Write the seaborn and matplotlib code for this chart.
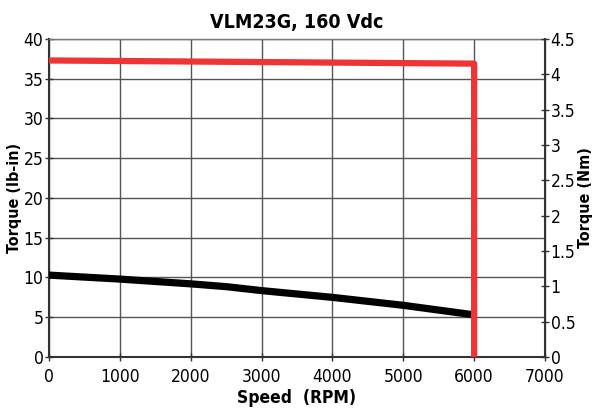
import numpy as np
import pandas as pd
import matplotlib
matplotlib.use("Agg")
import matplotlib.pyplot as plt
import seaborn as sns
from matplotlib import font_manager

sns.set_style("white")
names = {f.name for f in font_manager.fontManager.ttflist}
FONT = "Liberation Sans Narrow" if "Liberation Sans Narrow" in names else "DejaVu Sans"
plt.rcParams['font.family'] = [FONT, 'DejaVu Sans']
plt.rcParams['font.stretch'] = 'condensed'
plt.rcParams['text.color'] = 'black'
plt.rcParams['axes.labelcolor'] = 'black'
plt.rcParams['xtick.color'] = 'black'
plt.rcParams['ytick.color'] = 'black'

# data
speed_black = [0, 1000, 2000, 2500, 3000, 4000, 5000, 6000]
torque_black = [10.3, 9.8, 9.2, 8.85, 8.35, 7.5, 6.5, 5.3]
speed_red = [0, 6000, 6000]
torque_red = [37.3, 36.9, 0]

RED = "#ee3435"
GRID = "#555555"

fig = plt.figure(figsize=(5.92, 4.13), dpi=100)
ax = fig.add_axes([0.0828, 0.1356, 0.8378, 0.770])

df_b = pd.DataFrame({"speed": speed_black, "torque": torque_black})
df_r = pd.DataFrame({"speed": speed_red, "torque": torque_red})
sns.lineplot(data=df_b, x="speed", y="torque", color="black", lw=5.2, ax=ax,
             sort=False, estimator=None, solid_capstyle="butt", zorder=3)
sns.lineplot(data=df_r, x="speed", y="torque", color=RED, lw=4.5, ax=ax,
             sort=False, estimator=None, solid_capstyle="round",
             solid_joinstyle="round", zorder=4)

ax.set_xlim(0, 7000)
ax.set_ylim(0, 40)
ax.set_xticks(range(0, 7001, 1000))
ax.set_yticks(range(0, 41, 5))
ax.grid(True, color=GRID, lw=1.0)
ax.set_axisbelow(True)
for s in ["top", "right"]:
    ax.spines[s].set_color("#777777")
    ax.spines[s].set_linewidth(1.0)
for s in ["left", "bottom"]:
    ax.spines[s].set_color("#333333")
    ax.spines[s].set_linewidth(1.5)
ax.tick_params(axis="both", direction="inout", length=6, width=1, color="#333333",
               labelsize=12.5, pad=1)
ax.tick_params(axis="x", bottom=True, pad=5)
ax.tick_params(axis="y", left=True, pad=1)
ax.set_xlabel("Speed  (RPM)", fontsize=12.5, fontweight="bold", labelpad=2)
ax.set_ylabel("Torque (lb-in)", fontsize=11.5, fontweight="bold", labelpad=1)
ax.set_title("VLM23G, 160 Vdc", fontsize=14, fontweight="bold", pad=8)

ax2 = ax.twinx()
ax2.set_ylim(0, 4.5)
ax2.set_yticks(np.arange(0, 4.51, 0.5))
ax2.set_yticklabels(["0", "0.5", "1", "1.5", "2", "2.5", "3", "3.5", "4", "4.5"])
ax2.spines["right"].set_color("#333333")
ax2.spines["right"].set_linewidth(1.5)
for s in ["top", "left", "bottom"]:
    ax2.spines[s].set_visible(False)
ax2.tick_params(axis="y", direction="inout", length=6, width=1, color="#333333",
                labelsize=12.5, pad=1, right=True)
ax2.set_ylabel("Torque (Nm)", fontsize=11.5, fontweight="bold", labelpad=2)

fig.savefig("out.png", dpi=100)
